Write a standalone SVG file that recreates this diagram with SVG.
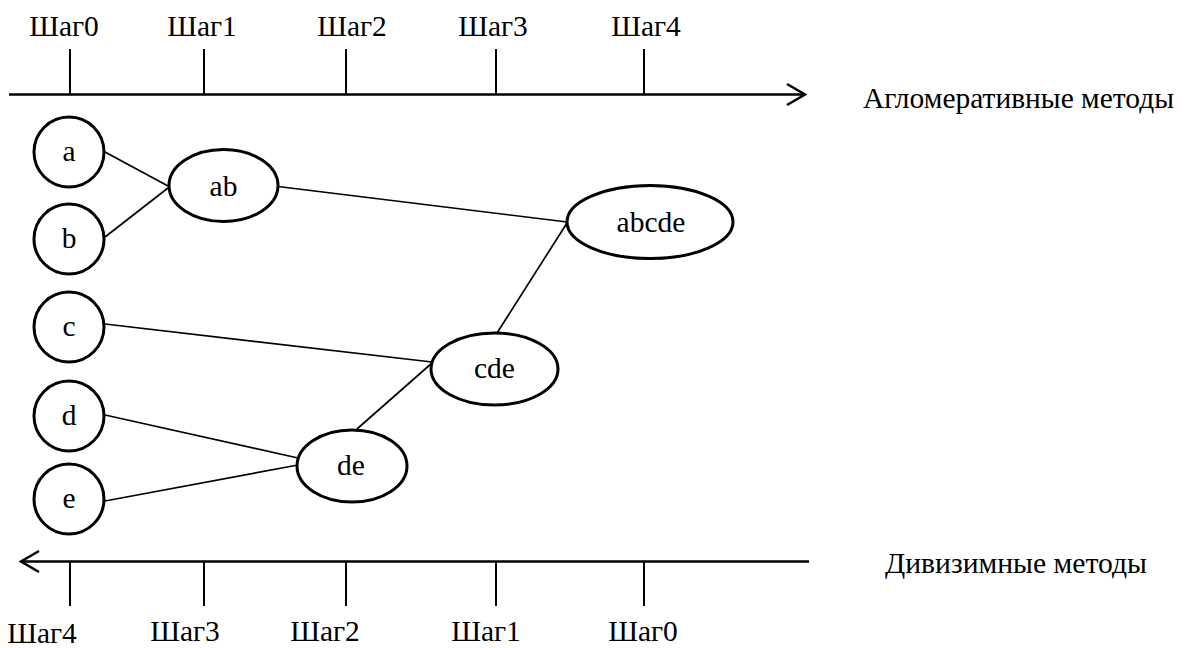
<svg xmlns="http://www.w3.org/2000/svg" width="1185" height="648" viewBox="0 0 1185 648">
  <style>
    text { font-family: "Liberation Serif", "Times New Roman", serif; font-size: 29.5px; fill: #000; }
    .lbl { text-anchor: middle; }
    .node { fill: #fff; stroke: #000; stroke-width: 3; }
    .edge { stroke: #000; stroke-width: 1.7; fill: none; }
    .axis { stroke: #000; stroke-width: 2.5; fill: none; }
    .tick { stroke: #000; stroke-width: 2; }
  </style>

  <!-- Agglomerative time axis (top) -->
  <g id="axis-agglomerative">
    <line class="axis" x1="9" y1="94.5" x2="805" y2="94.5"/>
    <polyline class="axis" points="787,84 805,94.5 787,105"/>
    <line class="tick" x1="70" y1="49" x2="70" y2="94"/>
    <line class="tick" x1="204" y1="49" x2="204" y2="94"/>
    <line class="tick" x1="346" y1="49" x2="346" y2="94"/>
    <line class="tick" x1="496" y1="49" x2="496" y2="94"/>
    <line class="tick" x1="644" y1="49" x2="644" y2="94"/>
    <text class="lbl" x="64" y="36">Шаг0</text>
    <text class="lbl" x="202" y="36">Шаг1</text>
    <text class="lbl" x="352" y="36">Шаг2</text>
    <text class="lbl" x="493" y="36">Шаг3</text>
    <text class="lbl" x="646" y="36">Шаг4</text>
    <text x="863" y="108" textLength="311" lengthAdjust="spacingAndGlyphs">Агломеративные методы</text>
  </g>

  <!-- Divisive time axis (bottom) -->
  <g id="axis-divisive">
    <line class="axis" x1="21" y1="561.5" x2="809" y2="561.5"/>
    <polyline class="axis" points="39,551 21,561.5 39,572"/>
    <line class="tick" x1="70" y1="562" x2="70" y2="606"/>
    <line class="tick" x1="204" y1="562" x2="204" y2="606"/>
    <line class="tick" x1="346" y1="562" x2="346" y2="606"/>
    <line class="tick" x1="496" y1="562" x2="496" y2="606"/>
    <line class="tick" x1="644" y1="562" x2="644" y2="606"/>
    <text class="lbl" x="42" y="643">Шаг4</text>
    <text class="lbl" x="185" y="641">Шаг3</text>
    <text class="lbl" x="325" y="641">Шаг2</text>
    <text class="lbl" x="486" y="641">Шаг1</text>
    <text class="lbl" x="643" y="641">Шаг0</text>
    <text x="885" y="573" textLength="262" lengthAdjust="spacingAndGlyphs">Дивизимные методы</text>
  </g>

  <!-- Merge links -->
  <g id="connectors">
    <line class="edge" x1="105" y1="152" x2="168" y2="186"/>
    <line class="edge" x1="105" y1="237" x2="168" y2="188"/>
    <line class="edge" x1="278" y1="186.5" x2="567" y2="222"/>
    <line class="edge" x1="105" y1="324" x2="432" y2="362"/>
    <line class="edge" x1="497" y1="333" x2="567" y2="223"/>
    <line class="edge" x1="357" y1="429" x2="432" y2="363"/>
    <line class="edge" x1="105" y1="415" x2="298" y2="458"/>
    <line class="edge" x1="105" y1="501" x2="298" y2="465"/>
  </g>

  <!-- Leaf objects -->
  <g id="node-a">
    <circle class="node" cx="69" cy="152" r="35"/>
    <text class="lbl" x="69" y="161">a</text>
  </g>
  <g id="node-b">
    <circle class="node" cx="69" cy="239" r="35"/>
    <text class="lbl" x="69" y="248">b</text>
  </g>
  <g id="node-c">
    <circle class="node" cx="69" cy="327" r="35"/>
    <text class="lbl" x="69" y="336">c</text>
  </g>
  <g id="node-d">
    <circle class="node" cx="69" cy="416" r="35"/>
    <text class="lbl" x="69" y="425">d</text>
  </g>
  <g id="node-e">
    <circle class="node" cx="69" cy="499" r="35"/>
    <text class="lbl" x="69" y="508">e</text>
  </g>

  <!-- Clusters -->
  <g id="node-ab">
    <ellipse class="node" cx="223.5" cy="185.5" rx="54.5" ry="36"/>
    <text class="lbl" x="223.5" y="196">ab</text>
  </g>
  <g id="node-abcde">
    <ellipse class="node" cx="650" cy="222" rx="83" ry="36.5"/>
    <text class="lbl" x="651" y="232">abcde</text>
  </g>
  <g id="node-cde">
    <ellipse class="node" cx="494.5" cy="369" rx="63.5" ry="36"/>
    <text class="lbl" x="494.5" y="378">cde</text>
  </g>
  <g id="node-de">
    <ellipse class="node" cx="352" cy="466" rx="55" ry="36"/>
    <text class="lbl" x="351" y="475">de</text>
  </g>
</svg>
